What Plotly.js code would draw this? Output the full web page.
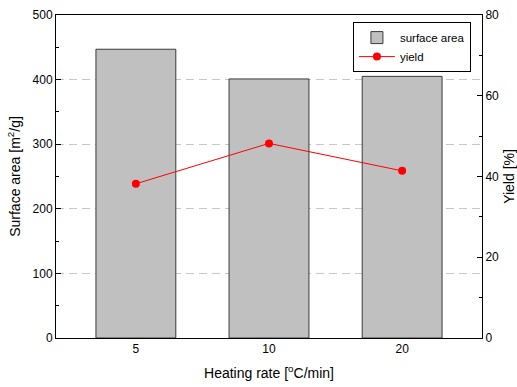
<!DOCTYPE html>
<html>
<head>
<meta charset="utf-8">
<script src="https://cdn.plot.ly/plotly-3.0.1.min.js"></script>
<style>
  html, body { margin: 0; padding: 0; background: #fff; }
  #chart { width: 517px; height: 387px; }
</style>
</head>
<body>
<div id="chart"></div>
<script>
// Heating rate categories and measured results
const heatingRates = ['5', '10', '20'];
const surfaceArea = [447, 401, 405];   // m2/g
const yieldPct = [38.2, 48.2, 41.4];   // %

const FONT = 'Liberation Sans, Arial, sans-serif';

const traces = [
  {
    type: 'bar',
    name: 'surface area',
    x: heatingRates,
    y: surfaceArea,
    width: 0.6,
    marker: { color: '#c0c0c0', line: { color: '#3a3a3a', width: 1 } },
    yaxis: 'y',
    hoverinfo: 'skip'
  },
  {
    type: 'scatter',
    mode: 'lines+markers',
    name: 'yield',
    x: heatingRates,
    y: yieldPct,
    line: { color: '#ff0000', width: 1 },
    marker: { color: '#ff0000', size: 8 },
    yaxis: 'y2',
    hoverinfo: 'skip'
  }
];

const layout = {
  width: 517,
  height: 387,
  margin: { l: 56, r: 35, t: 15, b: 49 },
  paper_bgcolor: '#fff',
  plot_bgcolor: '#fff',
  font: { family: FONT, size: 12, color: '#000' },
  showlegend: true,
  legend: {
    x: 0.697, y: 0.978, xanchor: 'left', yanchor: 'top',
    bgcolor: '#fff', bordercolor: '#000', borderwidth: 1,
    font: { family: FONT, size: 11.5, color: '#000' },
    itemwidth: 36,
    tracegroupgap: 0
  },
  xaxis: {
    type: 'category',
    range: [-0.6, 2.6],
    showline: true, mirror: true, linecolor: '#000', linewidth: 1,
    ticks: '', showgrid: false, zeroline: false,
    tickfont: { family: FONT, size: 12 },
    title: { text: 'Heating rate [<sup>o</sup>C/min]', font: { family: FONT, size: 14 }, standoff: 12 }
  },
  yaxis: {
    range: [0, 500],
    dtick: 100,
    showline: true, linecolor: '#000', linewidth: 1,
    ticks: 'inside', ticklen: 5, tickcolor: '#000',
    minor: { dtick: 50, ticks: 'inside', ticklen: 3, tickcolor: '#000', showgrid: false },
    showgrid: true, gridcolor: '#c8c8c8', griddash: '8px,5px', gridwidth: 1,
    zeroline: false,
    tickfont: { family: FONT, size: 12 },
    title: { text: 'Surface area [m<sup>2</sup>/g]', font: { family: FONT, size: 14 }, standoff: 8 }
  },
  yaxis2: {
    overlaying: 'y',
    side: 'right',
    range: [0, 80],
    dtick: 20,
    showline: true, linecolor: '#000', linewidth: 1,
    ticks: 'inside', ticklen: 5, tickcolor: '#000',
    minor: { dtick: 10, ticks: 'inside', ticklen: 3, tickcolor: '#000', showgrid: false },
    showgrid: false, zeroline: false,
    tickfont: { family: FONT, size: 12 },
    title: { text: 'Yield [%]', font: { family: FONT, size: 14 }, standoff: 6 }
  }
};

Plotly.newPlot('chart', traces, layout, { displayModeBar: false, staticPlot: true });
</script>
</body>
</html>
